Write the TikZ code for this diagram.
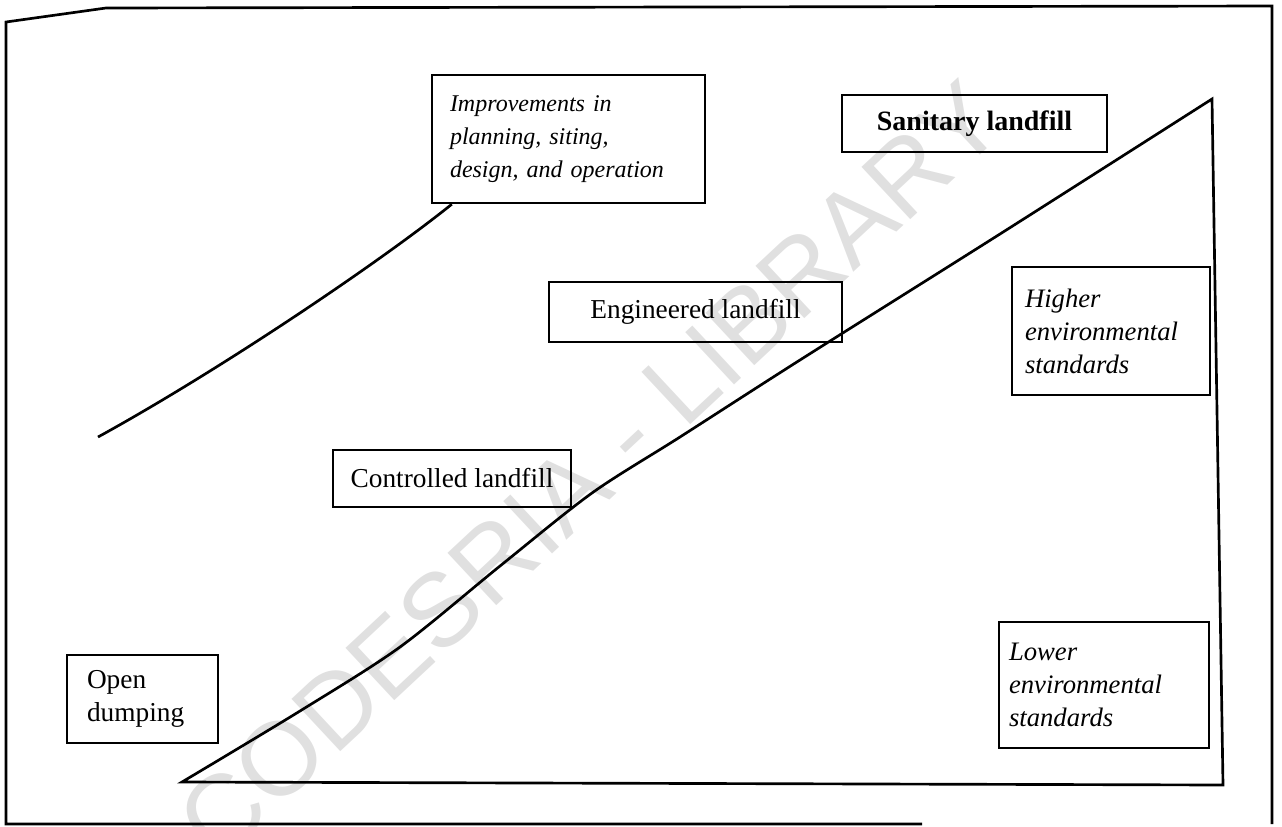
\documentclass[tikz,border=0pt]{standalone}
\usepackage{fontspec}
\setmainfont{Liberation Serif}
\setsansfont{Liberation Sans}
\begin{document}
\begin{tikzpicture}[
    x=.75pt,y=-.75pt,
    font=\rmfamily\fontsize{20.5}{24.75}\selectfont,
    outline/.style={line width=2pt},
    plainbox/.style={draw,line width=1.8pt,inner sep=0pt,align=center},
    notebox/.style={plainbox,align=left,font=\rmfamily\itshape\fontsize{20}{24.75}\selectfont},
    boldbox/.style={plainbox,font=\rmfamily\bfseries\fontsize{21}{24.75}\selectfont}
  ]
    \definecolor{wmgray}{HTML}{E0E0E0}
    \path[use as bounding box] (0,0) rectangle (1282,826);
    \node[rotate=43,text=wmgray,font=\sffamily\fontsize{78}{78}\selectfont] (stamp) at (590,470) {CODESRIA - LIBRARY};
    \draw[outline] (922,824)--(6,824)--(6,22)--(106,8)--(1272,6)--(1272,824);
    \coordinate (base) at (182,782);
    \coordinate (apex) at (1212,99);
    \coordinate (corner) at (1223,785);
    \draw[outline] plot[smooth,tension=.5] coordinates {(base) (300,711) (400,647) (500,566) (592,493) (680,437) (800,360) (1000,234) (apex)}
      -- (corner) -- cycle;
    \node[notebox,font=\rmfamily\itshape\fontsize{18}{24.75}\selectfont,minimum height=96pt,text width=177.75pt,inner xsep=13.5pt] (improve) at (568.5,139)
      {Improvements in\\planning, siting,\\design, and operation};
    \coordinate (risestart) at (98,437);
    \draw[outline] (risestart) .. controls (220,370) and (380,262) .. ([xshift=15.75pt]improve.south west);
    \node[boldbox,minimum width=198.75pt,minimum height=42.75pt] (sanitary) at (974.5,123.5) {Sanitary landfill};
    \node[plainbox,minimum width=219.75pt,minimum height=45pt] (engineered) at (695.5,312) {Engineered landfill};
    \node[plainbox,minimum width=178.5pt,minimum height=42.75pt] (controlled) at (452,478.5) {Controlled landfill};
    \node[plainbox,align=left,minimum height=66pt,text width=83.25pt,inner xsep=15pt] (open) at (142.5,699)
      {Open\\dumping};
    \node[notebox,minimum height=96pt,text width=129pt,inner xsep=9.75pt] (higher) at (1111,331)
      {Higher\\environmental\\standards};
    \node[notebox,minimum height=94.5pt,text width=142.5pt,inner xsep=7.5pt] (lower) at (1104,685)
      {Lower\\environmental\\standards};
\end{tikzpicture}
\end{document}
